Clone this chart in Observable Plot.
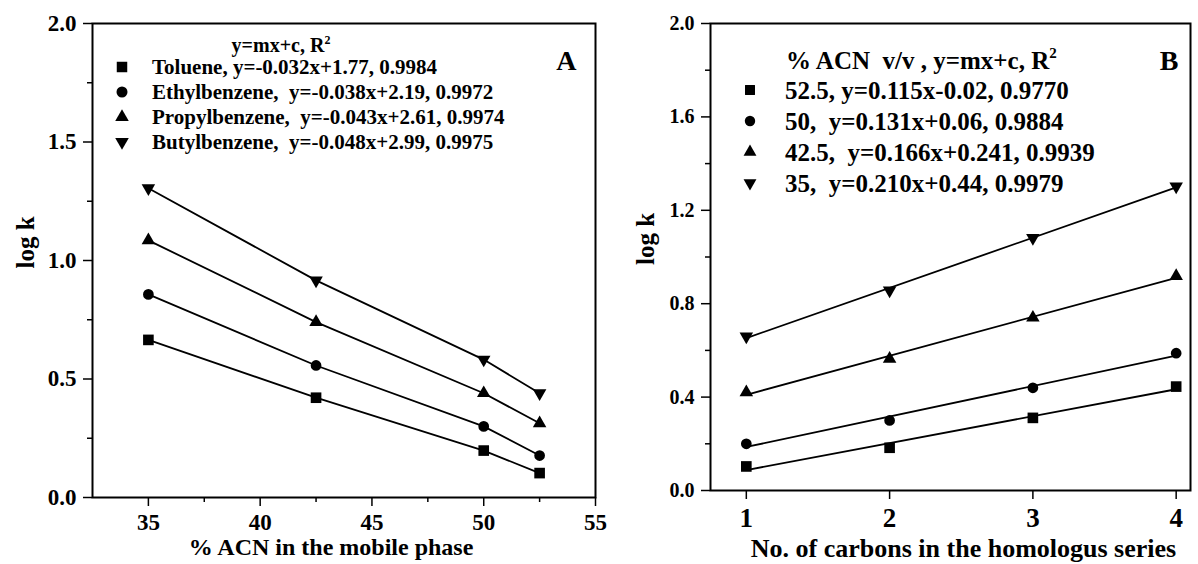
<!DOCTYPE html>
<html><head><meta charset="utf-8">
<script src="https://cdn.jsdelivr.net/npm/d3@7"></script>
<script src="https://cdn.jsdelivr.net/npm/@observablehq/plot@0.6"></script>
<style>
body{margin:0;background:#fff;}
#wrap{position:relative;width:1198px;height:564px;font-family:"Liberation Serif","Times New Roman",serif;font-weight:bold;color:#000;overflow:hidden;}
#wrap svg text{font-family:"Liberation Serif","Times New Roman",serif !important;font-weight:bold !important;fill:#000;}
.panel{position:absolute;top:0;}
.leg{position:absolute;white-space:pre;line-height:1;transform:translateY(-50%);}
.sym{position:absolute;transform:translate(-50%,-50%);}
sup{font-size:0.6em;vertical-align:0.7em;line-height:0;}
</style></head><body><div id="wrap"></div>
<script>
// ---------- Panel A data ----------
const acnLevels = [35, 42.5, 50, 52.5];
const compounds = ["Toluene", "Ethylbenzene", "Propylbenzene", "Butylbenzene"];
const tolueneLogK = [0.665, 0.421, 0.198, 0.103];
const ethylbenzeneLogK = [0.857, 0.557, 0.300, 0.177];
const propylbenzeneLogK = [1.085, 0.740, 0.440, 0.313];
const butylbenzeneLogK = [1.305, 0.916, 0.582, 0.440];
const legendA = [
  "Toluene, y=-0.032x+1.77, 0.9984",
  "Ethylbenzene,  y=-0.038x+2.19, 0.9972",
  "Propylbenzene,  y=-0.043x+2.61, 0.9974",
  "Butylbenzene,  y=-0.048x+2.99, 0.9975"
];
const xTicksA = [35, 40, 45, 50, 55];
const xMinorA = [37.5, 42.5, 47.5, 52.5];
const yTicksA = [0, 0.5, 1.0, 1.5, 2.0];
const yMinorA = [0.25, 0.75, 1.25, 1.75];

// ---------- Panel B data ----------
const carbons = [1, 2, 3, 4];
const acnSeries = ["52.5", "50", "42.5", "35"];
const acn525LogK = [0.103, 0.183, 0.311, 0.445];
const acn50LogK = [0.200, 0.300, 0.440, 0.588];
const acn425LogK = [0.420, 0.564, 0.740, 0.918];
const acn35LogK = [0.660, 0.857, 1.082, 1.302];
const legendB = [
  "52.5, y=0.115x-0.02, 0.9770",
  "50,  y=0.131x+0.06, 0.9884",
  "42.5,  y=0.166x+0.241, 0.9939",
  "35,  y=0.210x+0.44, 0.9979"
];
const xTicksB = [1, 2, 3, 4];
const yTicksB = [0, 0.4, 0.8, 1.2, 1.6, 2.0];
const yMinorB = [0.2, 0.6, 1.0, 1.4, 1.8];

const font = '"Liberation Serif", "Times New Roman", serif';

// symbols
const downTriangle = {draw(ctx, size) {
  const y = -Math.sqrt(size / (Math.sqrt(3) * 3));
  ctx.moveTo(0, -y * 2);
  ctx.lineTo(-Math.sqrt(3) * y, y);
  ctx.lineTo(Math.sqrt(3) * y, y);
  ctx.closePath();
}};
const scaled = (base, f) => ({draw(ctx, size) { base.draw(ctx, size * f); }});
const symbolList = [scaled(d3.symbolSquare, 1), scaled(d3.symbolCircle, 0.8), scaled(d3.symbolTriangle, 0.7), scaled(downTriangle, 0.7)];

const seriesA = [tolueneLogK, ethylbenzeneLogK, propylbenzeneLogK, butylbenzeneLogK];
const rowsA = compounds.flatMap((c, i) => acnLevels.map((x, j) => ({series: c, x, y: seriesA[i][j]})));
const seriesB = [acn525LogK, acn50LogK, acn425LogK, acn35LogK];
const rowsB = acnSeries.flatMap((c, i) => carbons.map((x, j) => ({series: c, x, y: seriesB[i][j]})));

const styleBase = {fontFamily: font, fontWeight: "bold", color: "#000", background: "transparent", overflow: "visible"};
const tf = {fontFamily: font, fontWeight: "bold"};

const plotA = Plot.plot({
  width: 600, height: 564,
  marginLeft: 92, marginRight: 5, marginTop: 23, marginBottom: 67,
  x: {domain: [32.5, 55]},
  y: {domain: [0, 2]},
  style: {...styleBase, fontSize: "23px"},
  marks: [
    Plot.axisX({ticks: xTicksA, tickSize: 9, tickPadding: 7, strokeWidth: 1.5, label: null, tickFormat: d => String(d), fontSize: 23, ...tf}),
    Plot.axisX({ticks: xMinorA, tickSize: 5, text: null, strokeWidth: 1.5, label: null}),
    Plot.axisY({ticks: yTicksA, tickSize: 9, tickPadding: 7, strokeWidth: 1.5, label: null, tickFormat: d3.format(".1f"), fontSize: 23, ...tf}),
    Plot.axisY({ticks: yMinorA, tickSize: 5, text: null, strokeWidth: 1.5, label: null}),
    Plot.frame({stroke: "#000", strokeWidth: 2}),
    Plot.line(rowsA, {x: "x", y: "y", z: "series", curve: "linear", stroke: "#000", strokeWidth: 1.8}),
    ...compounds.map((c, i) => Plot.dot(rowsA.filter(d => d.series === c), {x: "x", y: "y", r: 6, symbol: symbolList[i], fill: "#000", stroke: "none"})),
    Plot.text(["% ACN in the mobile phase"], {text: d => d, frameAnchor: "bottom", dx: -13, dy: 57, fontSize: 24, ...tf}),
    Plot.text(["log k"], {text: d => d, frameAnchor: "left", dx: -67, dy: 8, rotate: -90, fontSize: 25, ...tf}),
    Plot.text(["A"], {text: d => d, frameAnchor: "top-right", dx: -19, dy: 27, fontSize: 28, ...tf})
  ]
});

const plotB = Plot.plot({
  width: 598, height: 564,
  marginLeft: 110, marginRight: 8, marginTop: 23, marginBottom: 74,
  x: {domain: [0.75, 4.1]},
  y: {domain: [0, 2]},
  style: {...styleBase, fontSize: "20px"},
  marks: [
    Plot.axisX({ticks: xTicksB, tickSize: 9, tickPadding: 8, strokeWidth: 1.5, label: null, tickFormat: d => String(d), fontSize: 27, ...tf}),
    Plot.axisY({ticks: yTicksB, tickSize: 9, tickPadding: 7, strokeWidth: 1.5, label: null, tickFormat: d3.format(".1f"), fontSize: 20, ...tf}),
    Plot.axisY({ticks: yMinorB, tickSize: 5, text: null, strokeWidth: 1.5, label: null}),
    Plot.frame({stroke: "#000", strokeWidth: 2}),
    Plot.linearRegressionY(rowsB, {x: "x", y: "y", z: "series", ci: 0, stroke: "#000", strokeWidth: 1.8}),
    ...acnSeries.map((c, i) => Plot.dot(rowsB.filter(d => d.series === c), {x: "x", y: "y", r: 6, symbol: symbolList[i], fill: "#000", stroke: "none"})),
    Plot.text(["No. of carbons in the homologus series"], {text: d => d, frameAnchor: "bottom", dx: 13, dy: 66, fontSize: 26, ...tf}),
    Plot.text(["log k"], {text: d => d, frameAnchor: "left", dx: -65, dy: 8, rotate: -90, fontSize: 25, ...tf}),
    Plot.text(["B"], {text: d => d, frameAnchor: "top-right", dx: -12, dy: 27, fontSize: 28, ...tf})
  ]
});

const wrap = document.getElementById("wrap");
plotA.classList.add("panel"); plotA.style.left = "0px";
plotB.classList.add("panel"); plotB.style.left = "600px";
wrap.appendChild(plotA);
wrap.appendChild(plotB);

// ---------- legends (HTML overlay) ----------
const legendTypes = [d3.symbolSquare, d3.symbolCircle, d3.symbolTriangle, downTriangle];
const legendSizes = [110, 95, 80, 80];
function addSymbol(i, cx, cy, k) {
  const svg = d3.create("svg").attr("class", "sym").attr("width", 20).attr("height", 20)
    .attr("viewBox", "-10 -10 20 20")
    .style("left", cx + "px").style("top", cy + "px");
  svg.append("path").attr("d", d3.symbol(legendTypes[i], legendSizes[i] * k)()).attr("fill", "#000");
  wrap.appendChild(svg.node());
}
function addText(html, left, top, size, center) {
  const div = document.createElement("div");
  div.className = "leg";
  div.innerHTML = html;
  div.style.left = left + "px";
  div.style.top = top + "px";
  div.style.fontSize = size + "px";
  if (center) div.style.transform = "translate(-50%,-50%)";
  wrap.appendChild(div);
}
// Panel A legend
addText("y=mx+c, R<sup>2</sup>", 281, 45, 20, true);
const rowYA = [67, 92, 117, 142];
legendA.forEach((t, i) => { addSymbol(i, 122, rowYA[i], 1); addText(t, 152, rowYA[i], 21, false); });
// Panel B legend
addText("% ACN  v/v , y=mx+c, R<sup>2</sup>", 786, 60, 25, false);
const rowYB = [90, 121, 152, 183];
legendB.forEach((t, i) => { addSymbol(i, 750, rowYB[i], 0.9); addText(t, 785, rowYB[i], 25, false); });
</script>
</body></html>
